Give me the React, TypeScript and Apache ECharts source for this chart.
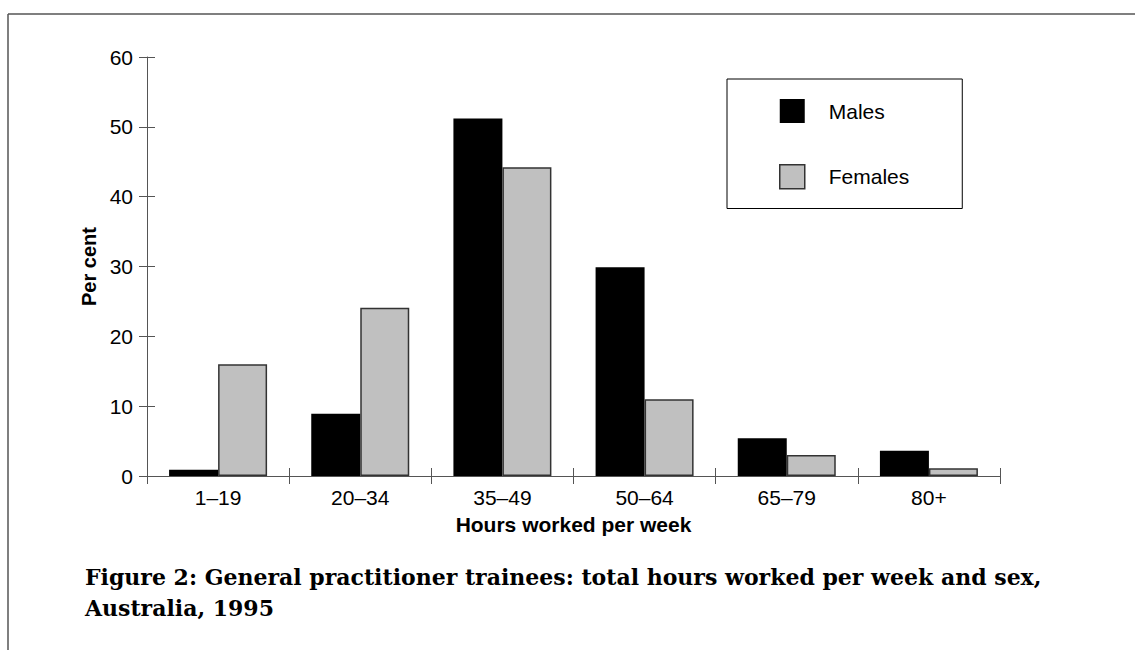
import React, { useEffect, useRef } from "react";
import * as echarts from "echarts";

const categories = ["1–19", "20–34", "35–49", "50–64", "65–79", "80+"];
const males = [0.9, 8.9, 51.2, 29.9, 5.4, 3.6];
const females = [16.0, 24.1, 44.2, 11.0, 3.0, 1.1];
const yMin = 0;
const yMax = 60;
const yInterval = 10;
const xAxisTitle = "Hours worked per week";
const yAxisTitle = "Per cent";
const captionLines = [
  "Figure 2: General practitioner trainees: total hours worked per week and sex,",
  "Australia, 1995",
];

const SANS = "Arial, 'Liberation Sans', Helvetica, sans-serif";
const SERIF = "'DejaVu Serif', serif";
const AXIS = "#555";

export default function App() {
  const ref = useRef<HTMLDivElement>(null);
  useEffect(() => {
    if (!ref.current) return;
    const chart = echarts.init(ref.current, undefined, { renderer: "svg" });
    const tickStyle = { color: AXIS, width: 1 };
    chart.setOption({
      animation: false,
      backgroundColor: "#fff",
      grid: { left: 147, right: 135, top: 57, bottom: 174 },
      legend: {
        orient: "vertical",
        left: 727,
        top: 79,
        padding: [20, 53, 19, 52],
        itemWidth: 25,
        itemHeight: 24,
        itemGap: 41,
        borderColor: "#000",
        borderWidth: 1,
        icon: "rect",
        textStyle: { color: "#000", fontSize: 21, fontFamily: SANS, padding: [0, 0, 0, 19] },
        data: [
          { name: "Males", itemStyle: { color: "#000", borderWidth: 0 } },
          { name: "Females", itemStyle: { color: "#c0c0c0", borderColor: "#333", borderWidth: 1.5 } },
        ],
      },
      xAxis: [
        {
          type: "category",
          data: categories,
          position: "bottom",
          axisLine: { show: true, lineStyle: tickStyle },
          axisTick: { show: true, length: 8, lineStyle: tickStyle },
          axisLabel: { color: "#000", fontSize: 21, fontFamily: SANS, margin: 11 },
          name: xAxisTitle,
          nameLocation: "middle",
          nameGap: 38,
          nameTextStyle: { color: "#000", fontSize: 21, fontWeight: "bold", fontFamily: SANS },
          splitLine: { show: false },
        },
        {
          type: "category",
          data: categories,
          position: "bottom",
          axisLine: { show: false },
          axisTick: { show: true, inside: true, length: 8, lineStyle: tickStyle },
          axisLabel: { show: false },
          splitLine: { show: false },
        },
      ],
      yAxis: [
        {
          type: "value",
          min: yMin,
          max: yMax,
          interval: yInterval,
          position: "left",
          axisLine: { show: true, lineStyle: tickStyle },
          axisTick: { show: true, length: 8, lineStyle: tickStyle },
          axisLabel: { color: "#000", fontSize: 21, fontFamily: SANS, margin: 14 },
          splitLine: { show: false },
          name: yAxisTitle,
          nameLocation: "middle",
          nameGap: 40,
          nameTextStyle: { color: "#000", fontSize: 20, fontWeight: "bold", fontFamily: SANS },
        },
        {
          type: "value",
          min: yMin,
          max: yMax,
          interval: yInterval,
          position: "left",
          axisLine: { show: false },
          axisTick: { show: true, inside: true, length: 8, lineStyle: tickStyle },
          axisLabel: { show: false },
          splitLine: { show: false },
        },
      ],
      series: [
        {
          name: "Males",
          type: "bar",
          data: males,
          barWidth: 49,
          barGap: "0%",
          itemStyle: { color: "#000" },
        },
        {
          name: "Females",
          type: "bar",
          data: females,
          barWidth: 49,
          barGap: "0%",
          itemStyle: { color: "#c0c0c0", borderColor: "#333", borderWidth: 1.5 },
        },
      ],
      graphic: [
        { type: "line", shape: { x1: 8, y1: 14, x2: 1135, y2: 14 }, style: { stroke: "#555", lineWidth: 1.5 } },
        { type: "line", shape: { x1: 8, y1: 14, x2: 8, y2: 650 }, style: { stroke: "#555", lineWidth: 1.5 } },
        {
          type: "text",
          left: 85,
          top: 566,
          style: { text: captionLines[0], fill: "#000", font: `bold 22px ${SERIF}` },
        },
        {
          type: "text",
          left: 85,
          top: 597,
          style: { text: captionLines[1], fill: "#000", font: `bold 22px ${SERIF}` },
        },
      ],
    });
    return () => chart.dispose();
  }, []);
  return (
    <div
      ref={ref}
      style={{ position: "absolute", left: 0, top: 0, width: 1135, height: 650 }}
    />
  );
}
